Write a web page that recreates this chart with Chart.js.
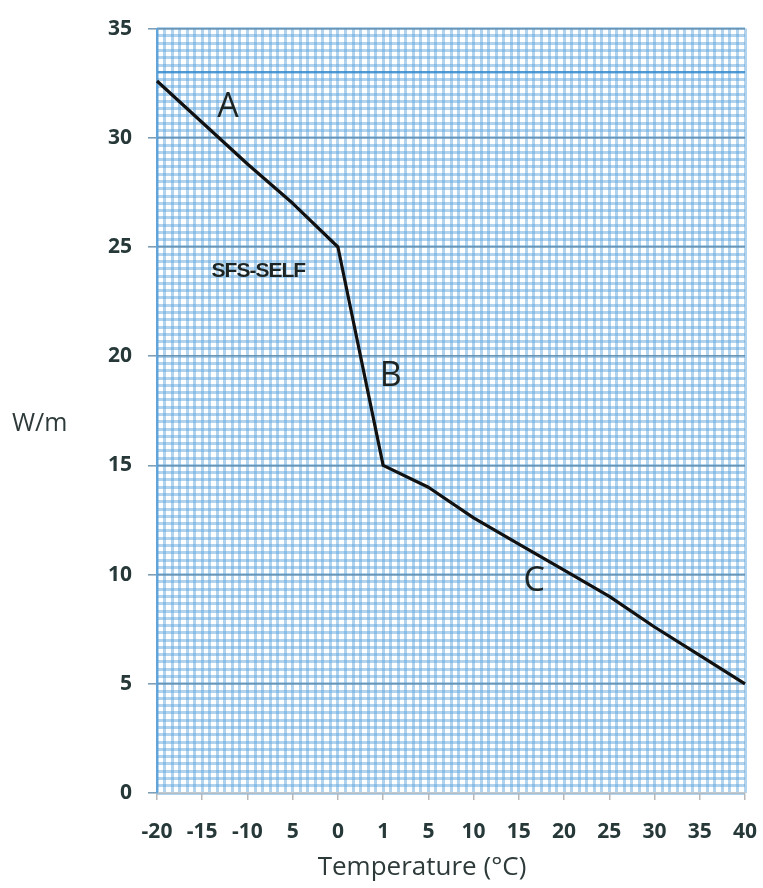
<!DOCTYPE html>
<html lang="en">
<head>
<meta charset="UTF-8">
<title>SFS-SELF W/m vs Temperature</title>
<script src="https://cdn.jsdelivr.net/npm/chart.js"></script>
<style>
  html, body { margin: 0; padding: 0; background: #fff; }
</style>
</head>
<body>
<canvas id="chart" width="763" height="888"></canvas>
<script>
// x categories, printed with uneven steps
var tempLabels = ['-20', '-15', '-10', '5', '0', '1', '5', '10', '15', '20', '25', '30', '35', '40'];
// W/m at each category
var wattsPerMetre = [32.6, 30.7, 28.8, 27.0, 25.0, 15.0, 14.0, 12.6, 11.4, 10.2, 9.0, 7.6, 6.3, 5.0];
// y axis range / tick step
var yMin = 0, yMax = 35, yStep = 5;
// extra printed line on the graph paper
var paperLines = [33];
// curve labels: text, x (category index), y (W/m)
var noteText = ['A', 'SFS-SELF', 'B', 'C'];
var noteX = [1.57, 2.24, 5.17, 8.34];
var noteY = [31.4, 23.9, 19.1, 9.7];

var minorPerCat = 6;   // graph paper cells per category
var minorPerUnit = 3;  // graph paper cells per W/m

var tickFont = { family: 'Open Sans', size: 21, weight: 'bold' };
var tickColor = '#263838';
var paperColor = 'rgba(100,168,222,0.5)';

// curve letters and axis titles
var textPlugin = {
    id: 'texts',
    afterDatasetsDraw: function (chart) {
        var ctx = chart.ctx, xs = chart.scales.x, ys = chart.scales.y;
        ctx.save();
        ctx.textAlign = 'center';
        ctx.textBaseline = 'middle';
        ctx.fillStyle = '#1d2424';
        for (var i = 0; i < noteText.length; i++) {
            if (noteText[i] === 'SFS-SELF') {
                ctx.font = 'bold 21px "Liberation Sans"';
                ctx.letterSpacing = '-1px';
            } else {
                ctx.font = '34px "Open Sans"';
                ctx.letterSpacing = '0px';
            }
            ctx.fillText(noteText[i], xs.getPixelForValue(noteX[i]), ys.getPixelForValue(noteY[i]));
        }
        ctx.restore();
    },
    afterDraw: function (chart) {
        var ctx = chart.ctx, a = chart.chartArea;
        ctx.save();
        ctx.fillStyle = '#2e3a3a';
        ctx.textBaseline = 'middle';
        ctx.font = '25px "Open Sans"';
        ctx.textAlign = 'left';
        ctx.fillText('W/m', 12, (a.top + a.bottom) / 2 + 13);
        ctx.textAlign = 'center';
        ctx.font = '26px "Open Sans"';
        ctx.fillText('Temperature (°C)', a.left + 265, 868);
        ctx.restore();
    }
};

new Chart(document.getElementById('chart'), {
    type: 'line',
    data: {
        labels: tempLabels,
        datasets: [{
            data: wattsPerMetre,
            xAxisID: 'x',
            yAxisID: 'y',
            borderColor: '#111',
            borderWidth: 3.2,
            borderJoinStyle: 'round',
            pointRadius: 0,
            tension: 0,
            fill: false
        }]
    },
    options: {
        responsive: false,
        animation: false,
        layout: { padding: { top: 25, right: 0, left: 0, bottom: 0 } },
        plugins: { legend: { display: false }, tooltip: { enabled: false } },
        scales: {
            xMinor: {
                type: 'linear', position: 'bottom',
                min: 0, max: (tempLabels.length - 1) * minorPerCat,
                ticks: { display: false, stepSize: 1 },
                grid: { color: paperColor, lineWidth: 3, drawTicks: false, z: -3 },
                border: { display: false },
                afterFit: function (s) { s.height = 0; }
            },
            yMinor: {
                type: 'linear', position: 'left',
                min: yMin * minorPerUnit, max: yMax * minorPerUnit,
                ticks: { display: false, stepSize: 1 },
                grid: { color: paperColor, lineWidth: 3, drawTicks: false, z: -3 },
                border: { display: false },
                afterFit: function (s) { s.width = 0; }
            },
            yPaper: {
                type: 'linear', position: 'left',
                min: yMin, max: yMax,
                afterBuildTicks: function (s) {
                    s.ticks = paperLines.map(function (v) { return { value: v }; });
                },
                ticks: { display: false },
                grid: { color: 'rgba(40,130,200,0.7)', lineWidth: 2, drawTicks: false, z: -2 },
                border: { display: false },
                afterFit: function (s) { s.width = 0; }
            },
            x: {
                type: 'category', position: 'bottom',
                offset: false,
                ticks: {
                    font: tickFont, color: tickColor, padding: 19,
                    maxRotation: 0, autoSkip: false
                },
                grid: { drawOnChartArea: false, color: '#b8b8b8', tickLength: 7, lineWidth: 1.5 },
                border: { display: true, color: '#c4c8cc', width: 1.5 },
                afterFit: function (s) {
                    s.height = 95;
                    s.paddingLeft = 0;
                    s.paddingRight = 18;
                }
            },
            y: {
                type: 'linear', position: 'left',
                min: yMin, max: yMax,
                ticks: { stepSize: yStep, font: tickFont, color: tickColor, padding: 16 },
                grid: { color: 'rgba(95,135,165,0.8)', lineWidth: 1.6, tickLength: 9, z: -1 },
                border: { display: true, color: 'rgba(90,160,215,0.9)', width: 2 },
                afterFit: function (s) { s.width = 157; }
            }
        }
    },
    plugins: [textPlugin]
});
</script>
</body>
</html>
